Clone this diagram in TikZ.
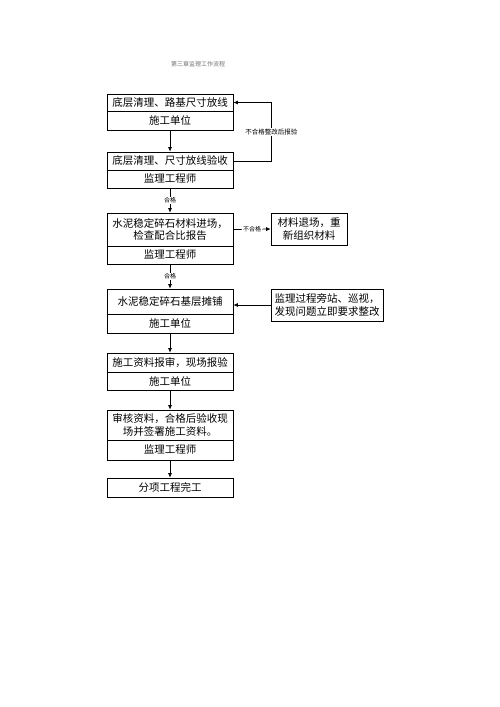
\documentclass[tikz,border=0pt]{standalone}
\usepackage{fontspec}
\newfontfamily\cjk{Noto Sans CJK SC}
\usetikzlibrary{arrows.meta}
\tikzset{
  sec/.style={draw, line width=0.7pt, minimum width=126pt, inner sep=0pt, align=center, font=\cjk\fontsize{10.5}{12.5}\selectfont},
  side/.style={draw, line width=0.7pt, inner sep=0pt, align=center, font=\cjk\fontsize{10.5}{13}\selectfont},
  arr/.style={line width=0.7pt, -{Latex[length=4.5pt,width=4pt]}},
  lbl/.style={fill=white, inner sep=1pt, font=\cjk\fontsize{6}{7}\selectfont}
}
\begin{document}
\begin{tikzpicture}[x=1pt,y=-1pt]
\useasboundingbox (0,0) rectangle (500,707);
\node[font=\cjk\fontsize{6}{7}\selectfont, text=black!55] (title) at (198,64) {第三章监理工作流程};

\node[sec, minimum height=17pt] (b1t) at (170,102.5) {底层清理、路基尺寸放线};
\node[sec, minimum height=19pt] (b1b) at (170,120.5) {施工单位};

\node[sec, minimum height=18pt] (b2t) at (170,161) {底层清理、尺寸放线验收};
\node[sec, minimum height=18pt] (b2b) at (170,179) {监理工程师};

\node[sec, minimum height=33pt] (b3t) at (170,229.5) {水泥稳定碎石材料进场，\\检查配合比报告};
\node[sec, minimum height=18pt] (b3b) at (170,255) {监理工程师};

\node[sec, minimum height=25pt] (b4t) at (170,301.5) {水泥稳定碎石基层摊铺};
\node[sec, minimum height=19pt] (b4b) at (170,323.5) {施工单位};

\node[sec, minimum height=19pt] (b5t) at (170,362.5) {施工资料报审，现场报验};
\node[sec, minimum height=18pt] (b5b) at (170,381) {施工单位};

\node[sec, minimum height=30pt] (b6t) at (170,425) {审核资料，合格后验收现\\场并签署施工资料。};
\node[sec, minimum height=20pt] (b6b) at (170,450) {监理工程师};

\node[sec, minimum height=19pt] (b7) at (170,487.5) {分项工程完工};

\node[side, minimum width=76pt, minimum height=32pt] (r1) at (309,229) {材料退场，重\\新组织材料};
\node[side, minimum width=112pt, minimum height=32pt] (r2) at (327,305) {监理过程旁站、巡视，\\发现问题立即要求整改};

\draw[arr] (b1b.south) -- (b2t.north);
\draw[arr] (b2t.east) -- ++(38,0) |- node[lbl, pos=0.25, font=\cjk\fontsize{6.5}{7}\selectfont] {不合格整改后报验} (b1t.east);
\draw[arr] (b2b.south) -- node[lbl] {合格} (b3t.north);
\draw[arr] (b3t.east) -- node[lbl] {不合格} (r1.west);
\draw[arr] (b3b.south) -- node[lbl] {合格} (b4t.north);
\draw[arr] (r2.west) -- (r2.west -| b4t.east);
\draw[arr] (b4b.south) -- (b5t.north);
\draw[arr] (b5b.south) -- (b6t.north);
\draw[arr] (b6b.south) -- (b7.north);
\end{tikzpicture}
\end{document}
